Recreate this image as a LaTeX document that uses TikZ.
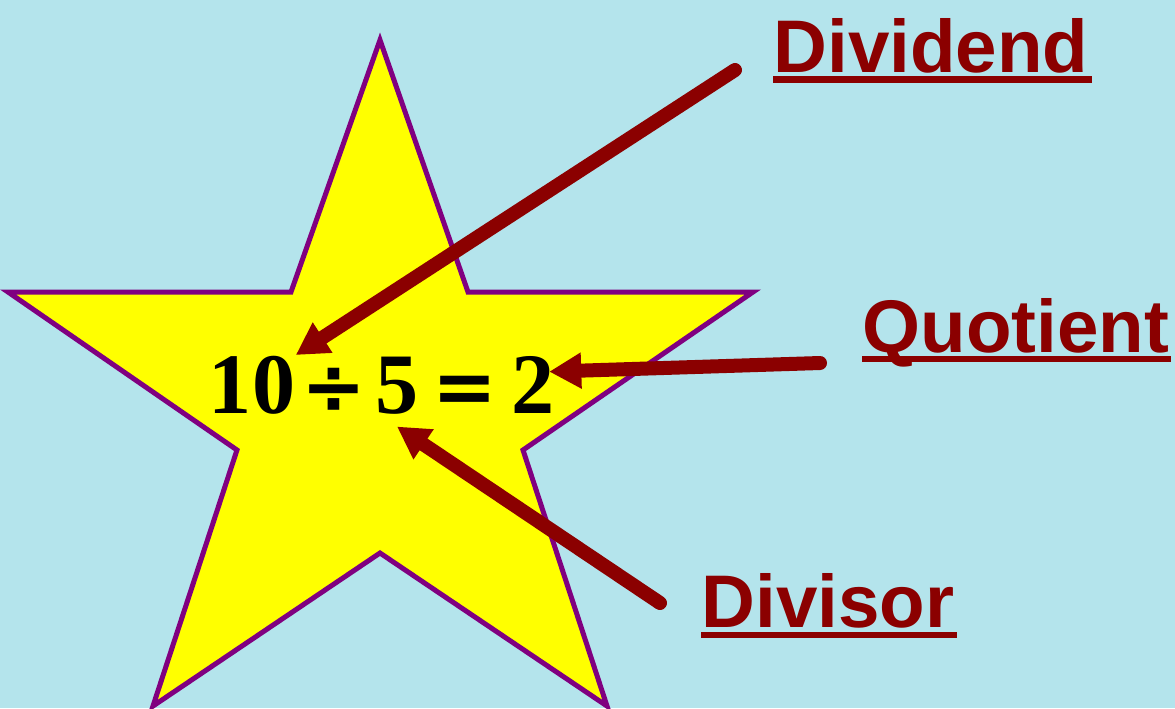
\documentclass[tikz,border=0pt]{standalone}
\usepackage{fontspec}
\setmainfont{Liberation Serif}
\setsansfont{Liberation Sans}
\newfontfamily\opfont{DejaVu Sans}
\usetikzlibrary{arrows.meta,positioning}
\definecolor{dropblue}{RGB}{180,228,236}
\definecolor{staryellow}{RGB}{255,255,0}
\definecolor{starpurple}{RGB}{128,0,128}
\definecolor{darkred}{RGB}{139,0,0}
\tikzset{
  term/.style={font=\bfseries\fontsize{24.5}{28}\selectfont, inner sep=0pt, anchor=base},
  operator/.style={font=\opfont\bfseries\fontsize{22}{26}\selectfont, inner sep=0pt, anchor=base},
  partname/.style={font=\sffamily\bfseries\fontsize{21.2}{25}\selectfont, text=darkred, inner sep=0pt, anchor=base west},
  uline/.style={darkred, line width=0.065cm},
  pointer/.style={darkred, line width=0.14cm, line cap=round, -{Triangle[length=0.32cm,width=0.34cm]}}
}

\begin{document}
\begin{tikzpicture}[x=0.01cm, y=-0.01cm]

		% Background and star
		\useasboundingbox (0,0) rectangle (1175,708);
		\fill[dropblue] (0,0) rectangle (1175,708);
		\draw[starpurple, fill=staryellow, line width=0.05cm]
		  (380,40) -- (468,292) -- (753,292) -- (523,450) -- (607,706)
		  -- (380,553) -- (153,706) -- (237,450) -- (8,292) -- (291,292) -- cycle;

		% Equation
		\node[term] (ten) at (252,413) {10};
		\node[operator] (divsign) at (334,413) {÷};
		\node[term] (five) at (397,413) {5};
		\node[operator] (equals) at (465,413) {=};
		\node[term] (two) at (533,413) {2};

		% Names of the parts
		\node[partname] (dividend) at (773,72) {Dividend};
		\draw[uline] ([shift={(0cm,-0.075cm)}]dividend.base west) -- ([shift={(0.03cm,-0.075cm)}]dividend.base east);

		\node[partname] (quotient) at (862,352) {Quotient};
		\draw[uline] ([shift={(0cm,-0.07cm)}]quotient.base west) -- ([shift={(0.01cm,-0.07cm)}]quotient.base east);

		\node[partname] (divisor) at (701,627) {Divisor};
		\draw[uline] ([shift={(0cm,-0.08cm)}]divisor.base west) -- ([shift={(0.02cm,-0.08cm)}]divisor.base east);

		% Pointers
		\coordinate (dividend-tail) at (735,70);
		\coordinate (quotient-tail) at (820,363);
		\coordinate (divisor-tail) at (660,603);

		\draw[pointer] (dividend-tail) -- (ten.north east);
		\draw[pointer] (quotient-tail) -- ([xshift=-0.06cm]two.30);
		\draw[pointer] (divisor-tail) -- ([yshift=-0.12cm]five.south);

	\end{tikzpicture}
\end{document}
